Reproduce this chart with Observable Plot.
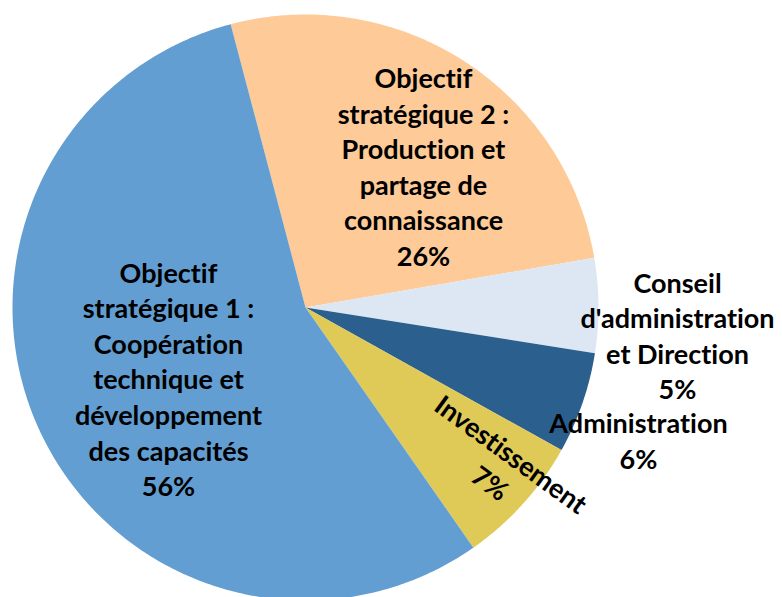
<!DOCTYPE html>
<html><head><meta charset="utf-8">
<script src="https://cdn.jsdelivr.net/npm/d3@7"></script>
<script src="https://cdn.jsdelivr.net/npm/@observablehq/plot@0.6"></script>
<style>body{margin:0;background:#fff}#chart svg{display:block}#chart text{font-variant-ligatures:none;font-feature-settings:"liga" 0,"clig" 0}</style>
</head><body><div id="chart"></div>
<script>
// Data (clockwise from the top)
const categories = [
  "Objectif stratégique 2 : Production et partage de connaissance",
  "Conseil d'administration et Direction",
  "Administration",
  "Investissement",
  "Objectif stratégique 1 : Coopération technique et développement des capacités"
];
const values = [26.4, 5.2, 5.6, 7.2, 55.6];
const percentLabels = ["26%", "5%", "6%", "7%", "56%"];
const labelLines = [
  ["Objectif", "stratégique 2 :", "Production et", "partage de", "connaissance"],
  ["Conseil", "d'administration", "et Direction"],
  ["Administration"],
  ["Investissement"],
  ["Objectif", "stratégique 1 :", "Coopération", "technique et", "développement", "des capacités"]
];
const colors = ["#fdca98", "#dde7f3", "#2b5f8d", "#dfca57", "#629ed2"];

// Layout
const W = 782, H = 597;
const CX = 305, CY = 307, R = 293;
const startDeg = -14.8;
// label anchors in pixel space, rotation
const labelPos = [
  {px: 423, py: 165, rotate: 0},
  {px: 677, py: 334, rotate: 0},
  {px: 638, py: 439, rotate: 0},
  {px: 501, py: 467, rotate: 36},
  {px: 168, py: 377.5, rotate: 0}
];
const FONT = 27;

const a0 = startDeg * Math.PI / 180;
const arcs = d3.pie().sort(null).startAngle(a0).endAngle(a0 + 2 * Math.PI)(values);

const slicePts = [];
arcs.forEach((a, i) => {
  slicePts.push({k: i, x: 0, y: 0});
  const n = Math.max(4, Math.ceil((a.endAngle - a.startAngle) / (Math.PI / 360)));
  for (let j = 0; j <= n; j++) {
    const t = a.startAngle + (a.endAngle - a.startAngle) * j / n;
    slicePts.push({k: i, x: Math.sin(t), y: Math.cos(t)});
  }
});

const labels = categories.map((c, i) => ({
  x: (labelPos[i].px - CX) / R,
  y: (CY - labelPos[i].py) / R,
  rotate: labelPos[i].rotate,
  text: labelLines[i].concat([percentLabels[i]]).join("\n")
}));

const marks = arcs.map((a, i) =>
  Plot.line(slicePts.filter(d => d.k === i), {x: "x", y: "y", fill: colors[i], stroke: "none"})
);
labels.forEach(l => {
  marks.push(Plot.text([l], {
    x: "x", y: "y", text: "text", rotate: l.rotate,
    fill: "#000", fontWeight: "bold", fontSize: FONT, lineHeight: 35.6 / FONT,
    textAnchor: "middle", lineAnchor: "middle", fontFamily: "Lato"
  }));
});

const chart = Plot.plot({
  width: W, height: H, margin: 0,
  style: {fontFamily: "Lato", background: "#fff"},
  x: {domain: [-CX / R, (W - CX) / R], axis: null},
  y: {domain: [-(H - CY) / R, CY / R], axis: null},
  marks
});
document.getElementById("chart").appendChild(chart);
</script>
</body></html>
